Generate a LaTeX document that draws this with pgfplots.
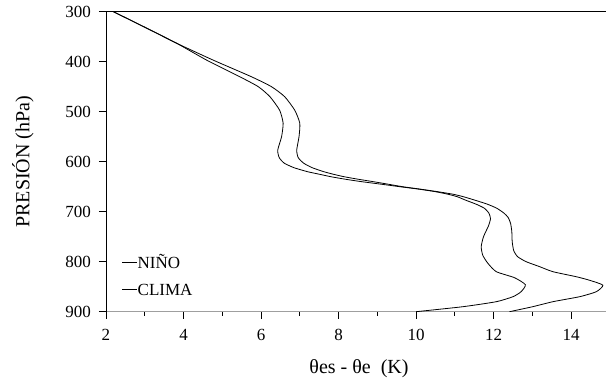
\documentclass[border=0pt]{standalone}
\usepackage{fontspec}
\setmainfont{Liberation Serif}
\usepackage{pgfplots}
\pgfplotsset{compat=1.18}
\pgfplotstableread{
x p
2.19 300
3.0 331
3.82 363
4.6 397
5.45 430
5.93 450
6.23 470
6.48 497
6.57 523
6.53 550
6.43 577
6.47 592
6.6 603
6.85 612
7.2 620
7.5 625
7.8 630
8.17 635
8.6 640
9.1 645
9.58 650
10.08 655
10.5 660
10.82 665
11.06 670
11.28 677
11.55 685
11.76 693
11.88 703
11.92 714
11.87 728
11.74 750
11.68 770
11.72 787
11.85 803
12.07 820
12.54 832
12.82 846
12.71 860
12.5 870
12.07 880
11.21 890
10.0 900
}\nino
\pgfplotstableread{
x p
2.19 300
3.0 331
3.82 363
4.77 397
5.75 430
6.27 450
6.61 470
6.87 497
7.0 523
6.98 550
6.92 577
6.96 592
7.1 603
7.32 612
7.62 620
7.86 625
8.14 630
8.5 635
8.9 640
9.28 645
9.65 650
10.12 655
10.56 660
10.95 665
11.22 670
11.52 677
11.84 685
12.08 693
12.27 703
12.38 712
12.44 724
12.47 740
12.48 760
12.52 778
12.62 790
12.84 800
13.19 810
13.53 820
14.13 830
14.47 837
14.82 847
14.65 860
14.22 870
13.53 880
13.01 890
12.41 900
}\clima
\begin{document}
\begin{tikzpicture}
\begin{axis}[
  name=ax,
  scale only axis, width=500bp, height=300bp,
  xmin=2, xmax=14.9, ymin=300, ymax=900, y dir=reverse,
  axis x line*=bottom, axis y line*=left,
  x axis line style={draw=gray!75, line width=1.6bp, -},
  y axis line style={black, line width=0.8bp, -},
  xtick={2,4,...,14}, minor xtick={3,5,...,13},
  ytick={400,500,...,900},
  extra y ticks={300},
  extra y tick style={grid=major, major grid style={black, line width=0.8bp}},
  tick align=outside, major tick length=7bp, minor tick length=4bp,
  tick style={black, line width=0.8bp},
  /pgf/number format/assume math mode=true,
  tick label style={font=\fontsize{17bp}{20bp}\selectfont},
  yticklabel style={inner sep=0pt, xshift=-8bp},
  xticklabel style={inner sep=0pt, yshift=-10bp},
  xlabel={θes - θe\ \ (K)},
  ylabel={PRESIÓN (hPa)},
  label style={font=\fontsize{20bp}{24bp}\selectfont},
  xlabel style={at={(axis description cs:0.506,-0.19)}, anchor=center},
  ylabel style={at={(axis description cs:-0.166,0.5)}, anchor=center},
  legend cell align=left,
  legend style={at={(axis description cs:0.0314,0.184)}, anchor=north west,
    draw=none, fill=none, inner sep=0pt, row sep=14.6bp,
    font=\fontsize{17bp}{20bp}\selectfont,
    nodes={inner sep=0pt, text height=12bp, text depth=0bp}},
  /tikz/every even column/.append style={column sep=2bp},
  legend image code/.code={\draw[black, line width=0.8bp] (0bp,0bp) -- (15bp,0bp);},
]
\addplot[black, line width=0.8bp, smooth, tension=0.35] table[x=x, y=p] {\nino};
\addlegendentry{NIÑO}
\addplot[black, line width=0.8bp, smooth, tension=0.35] table[x=x, y=p] {\clima};
\addlegendentry{CLIMA}
\end{axis}
\pgfresetboundingbox
\path[use as bounding box] ([xshift=-106bp,yshift=-69.3bp]ax.south west) rectangle ([yshift=11.7bp]ax.north east);
\end{tikzpicture}
\end{document}
